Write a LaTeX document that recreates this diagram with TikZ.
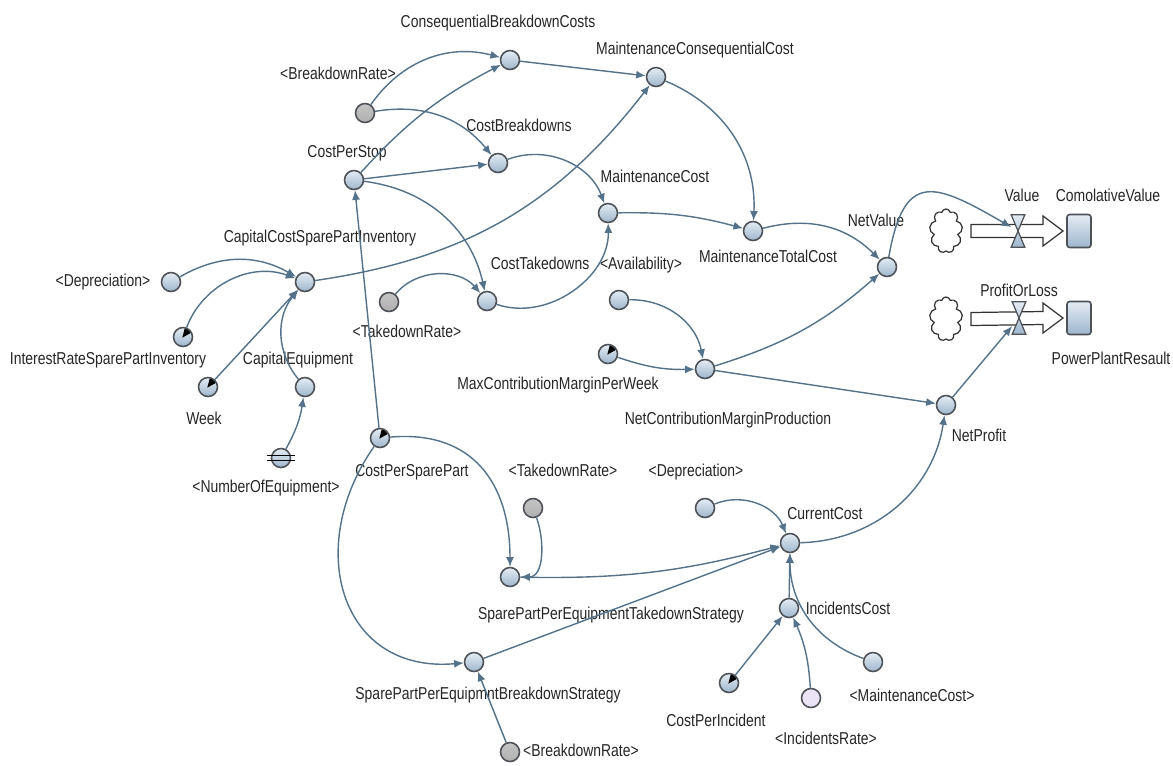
\documentclass[tikz,border=0pt]{standalone}
\usepackage{fontspec}
\setmainfont{Liberation Sans}[FakeStretch=0.81]
\usepackage{tikz}
\usetikzlibrary{calc,arrows.meta,shapes.symbols,positioning}
\definecolor{linkblue}{RGB}{84,115,138}
\definecolor{varlight}{RGB}{228,236,244}
\definecolor{vardark}{RGB}{158,182,204}
\definecolor{rimgray}{RGB}{78,82,88}
\definecolor{shadowgray}{RGB}{176,176,176}
\definecolor{lavender}{RGB}{234,228,246}
\tikzstyle{var}=[draw=rimgray,line width=0.9pt,circle,minimum size=0.38cm,inner sep=0pt,top color=varlight,bottom color=vardark]
\tikzstyle{extvar}=[var,top color=shadowgray!75,bottom color=shadowgray]
\tikzstyle{ratevar}=[var,top color=lavender,bottom color=lavender]
\tikzstyle{pointer}=[var,path picture={\fill[black] ($(path picture bounding box.center)+(225:1)$) -- ($(path picture bounding box.center)+(28:11)$) -- ($(path picture bounding box.center)+(78:11)$) -- cycle;}]
\tikzstyle{lbl}=[text=black!85,font=\fontsize{9.8}{11}\selectfont,inner sep=0pt,text height=7pt,text depth=2pt]
\tikzstyle{stock}=[draw=rimgray,line width=0.9pt,rounded corners=1.5pt,minimum width=0.48cm,minimum height=0.66cm,top color=varlight,bottom color=vardark]
\tikzstyle{source}=[cloud,cloud puffs=9,cloud ignores aspect,draw=black!80,line width=0.7pt,minimum width=0.66cm,minimum height=0.88cm,inner sep=0pt]
\tikzstyle{valve}=[minimum width=0.26cm,minimum height=0.64cm,inner sep=0pt]
\tikzstyle{pipe}=[draw=black!80,line width=0.7pt,fill=white]
\tikzstyle{valvebody}=[draw=rimgray,line width=0.7pt,top color=varlight,bottom color=vardark]
\tikzstyle{link}=[->,draw=linkblue,line width=0.8pt]

\begin{document}
\begin{tikzpicture}[x=0.02cm,y=0.02cm,>={Latex[length=5.5pt,width=4.6pt]}]
\fill[white] (0,0) rectangle (1173,-765);
\useasboundingbox (0,0) rectangle (1173,-765);
% variables
\draw (365,-113) node [extvar] (br1) {};
\draw (354,-180) node [var] (cps) {};
\draw (510,-60) node [var] (cbc) {};
\draw (656,-77) node [var] (mcc) {};
\draw (498,-163) node [var] (cb) {};
\draw (608,-213) node [var] (mc) {};
\draw (753,-231) node [var] (mtc) {};
\draw (887,-267) node [var] (nv) {};
\draw (171,-282) node [var] (dep1) {};
\draw (305,-282) node [var] (ccspi) {};
\draw (183,-337) node [pointer] (irspi) {};
\draw (208,-387) node [pointer] (week) {};
\draw (305,-387) node [var] (ce) {};
\draw (281,-458) node [var] (noe) {};
\draw (389,-302) node [extvar] (tr1) {};
\draw (487,-301) node [var] (ct) {};
\draw (619,-300) node [var] (av) {};
\draw (608,-354) node [pointer] (mcmpw) {};
\draw (705,-369) node [var] (ncmp) {};
\draw (946,-405) node [var] (np) {};
\draw (380,-438) node [pointer] (cpsp) {};
\draw (533,-508) node [extvar] (tr2) {};
\draw (705,-508) node [var] (dep2) {};
\draw (790,-543) node [var] (cc) {};
\draw (510,-577) node [var] (sppets) {};
\draw (474,-662) node [var] (sppebs) {};
\draw (510,-752) node [extvar] (br2) {};
\draw (789,-608) node [var] (ic) {};
\draw (729,-683) node [pointer] (cpi) {};
\draw (811,-698) node [ratevar] (irate) {};
\draw (873,-662) node [var] (mc2) {};
\draw[black,line width=0.9pt] ($(noe.west)+(-4,2.5)$) -- ($(noe.east)+(4,2.5)$);
\draw[black,line width=0.9pt] ($(noe.west)+(-4,-2.5)$) -- ($(noe.east)+(4,-2.5)$);
% stocks and flows
\draw (946,-231) node [source] (cv1) {};
\draw (1079,-231) node [stock] (sv1) {};
\draw (1018,-231) node [valve] (vv1) {};
\draw (946,-319) node [source] (cv2) {};
\draw (1079,-318) node [stock] (sv2) {};
\draw (1019,-318) node [valve] (vv2) {};
\foreach \c/\s/\v in {cv1/sv1/vv1,cv2/sv2/vv2}{
  \draw[pipe] ($(\c.center)+(25,6.5)$) -- ($(\s.center)+(-36,6.5)$) -- ($(\s.center)+(-36,15)$) -- ($(\s.center)+(-16,0)$) -- ($(\s.center)+(-36,-15)$) -- ($(\s.center)+(-36,-6.5)$) -- ($(\c.center)+(25,-6.5)$) -- cycle;
  \draw[valvebody] (\v.north west) -- (\v.north east) -- (\v.south west) -- (\v.south east) -- cycle;
}
% labels
\draw (338,-75) node [lbl] (tbr1) {<BreakdownRate>};
\draw (347,-153) node [lbl] (tcps) {CostPerStop};
\draw (498,-23) node [lbl] (tcbc) {ConsequentialBreakdownCosts};
\draw (695,-50) node [lbl] (tmcc) {MaintenanceConsequentialCost};
\draw (519,-127) node [lbl] (tcb) {CostBreakdowns};
\draw (655,-178) node [lbl] (tmc) {MaintenanceCost};
\draw (768,-258) node [lbl] (tmtc) {MaintenanceTotalCost};
\draw (876,-222) node [lbl] (tnv) {NetValue};
\draw (1022,-197) node [lbl] (tval) {Value};
\draw (1108,-197) node [lbl] (tcomv) {ComolativeValue};
\draw (1019,-292) node [lbl] (tpol) {ProfitOrLoss};
\draw (1111,-360) node [lbl] (tppr) {PowerPlantResault};
\draw (979,-437) node [lbl] (tnp) {NetProfit};
\draw (320,-238) node [lbl] (tccspi) {CapitalCostSparePartInventory};
\draw (103,-282) node [lbl] (tdep1) {<Depreciation>};
\draw (108,-360) node [lbl] (tirspi) {InterestRateSparePartInventory};
\draw (298,-360) node [lbl] (tce) {CapitalEquipment};
\draw (204,-420) node [lbl] (tweek) {Week};
\draw (266,-488) node [lbl] (tnoe) {<NumberOfEquipment>};
\draw (407,-333) node [lbl] (ttr1) {<TakedownRate>};
\draw (540,-265) node [lbl] (tct) {CostTakedowns};
\draw (641,-265) node [lbl] (tav) {<Availability>};
\draw (558,-385) node [lbl] (tmcmpw) {MaxContributionMarginPerWeek};
\draw (728,-420) node [lbl] (tncmp) {NetContributionMarginProduction};
\draw (412,-472) node [lbl] (tcpsp) {CostPerSparePart};
\draw (563,-472) node [lbl] (ttr2) {<TakedownRate>};
\draw (696,-472) node [lbl] (tdep2) {<Depreciation>};
\draw (825,-515) node [lbl] (tcc) {CurrentCost};
\draw (611,-615) node [lbl] (tsppets) {SparePartPerEquipmentTakedownStrategy};
\draw (488,-695) node [lbl] (tsppebs) {SparePartPerEquipmntBreakdownStrategy};
\draw (581,-752) node [lbl] (tbr2) {<BreakdownRate>};
\draw (848,-610) node [lbl] (tic) {IncidentsCost};
\draw (716,-722) node [lbl] (tcpi) {CostPerIncident};
\draw (826,-740) node [lbl] (tirate) {<IncidentsRate>};
\draw (912,-697) node [lbl] (tmc2) {<MaintenanceCost>};
% links
\draw[link] (br1) to[bend left=35] (cbc);
\draw[link] (br1) to[bend left=30] (cb);
\draw[link] (cps) to[bend left=10] (cbc);
\draw[link] (cps) -- (cb);
\draw[link] (cps) to[bend left=35] (ct);
\draw[link] (cbc) -- (mcc);
\draw[link] (ccspi) to[bend right=22] (mcc);
\draw[link] (cb) to[bend left=45] (mc);
\draw[link] (mcc) to[bend left=35] (mtc);
\draw[link] (mc) to[bend left=8] (mtc);
\draw[link] (ct) to[bend right=55] (mc);
\draw[link] (tr1) to[bend left=50] (ct);
\draw[link] (mtc) to[bend left=30] (nv);
\draw[link] (nv) to[out=80,in=150,looseness=1.8] (vv1);
\draw[link] (av) to[bend left=40] (ncmp);
\draw[link] (mcmpw) to[bend right=10] (ncmp);
\draw[link] (ncmp) to[bend right=12] (nv);
\draw[link] (ncmp) -- (np);
\draw[link] (np) -- (vv2);
\draw[link] (cc) to[bend right=40] (np);
\draw[link] (dep2) to[bend left=45] (cc);
\draw[link] (sppets) to[bend right=8] (cc);
\draw[link] (sppebs) -- (cc);
\draw[link] (cpsp) to[out=5,in=90,looseness=1.2] (sppets);
\draw[link] (cpsp) to[out=235,in=185,looseness=1.35] (sppebs);
\draw[link] (tr2) to[out=-70,in=0] (sppets);
\draw[link] (br2) -- (sppebs);
\draw[link] (dep1) to[bend left=30] (ccspi);
\draw[link] (irspi) to[bend left=45] (ccspi);
\draw[link] (week) -- (ccspi);
\draw[link] (ce) to[bend left=40] (ccspi);
\draw[link] (noe) to[bend right=10] (ce);
\draw[link] (cpsp) -- (cps);
\draw[link] (cpi) -- (ic);
\draw[link] (irate) to[bend right=10] (ic);
\draw[link] (mc2) to[bend left=35] (cc);
\draw[link] (ic) -- (cc);
\end{tikzpicture}
\end{document}
